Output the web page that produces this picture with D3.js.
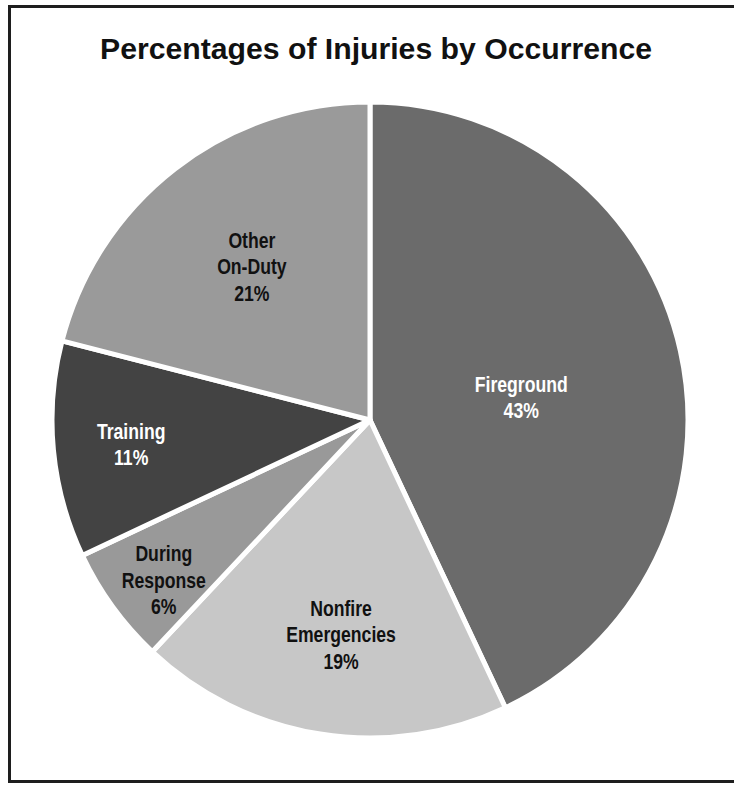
<!DOCTYPE html>
<html>
<head>
<meta charset="utf-8">
<script src="https://cdn.jsdelivr.net/npm/d3@7"></script>
<style>
  body { margin: 0; background: #fff; }
  svg { display: block; }
</style>
</head>
<body>
<div id="chart"></div>
<script>
const width = 734
const height = 785

// data, clockwise from 12 o'clock
const categories = ["Fireground", "Nonfire Emergencies", "During Response", "Training", "Other On-Duty"]
const values = [43, 19, 6, 11, 21]
const labelLines = [["Fireground"], ["Nonfire", "Emergencies"], ["During", "Response"], ["Training"], ["Other", "On-Duty"]]

const fills = ["#6b6b6b", "#c7c7c7", "#999999", "#434343", "#9a9a9a"]
const textFills = ["#fff", "#111", "#111", "#fff", "#111"]
// label placement: distance from centre and small angle nudge (degrees)
const labelRadius = [153, 216, 261, 240, 194]
const labelNudge = [3.9, -1.3, -1.8, -0.3, 0.3]

const cx = 370, cy = 420, radius = 318

const svg = d3.select("#chart")
  .append("svg")
  .attr("width", width)
  .attr("height", height)

// frame
svg.append("rect")
  .attr("x", 9.5)
  .attr("y", 6.5)
  .attr("width", 740)
  .attr("height", 775)
  .attr("fill", "none")
  .attr("stroke", "#1e1e1e")
  .attr("stroke-width", 3)

// title
svg.append("text")
  .attr("x", 376)
  .attr("y", 59)
  .attr("text-anchor", "middle")
  .attr("font-family", "'Liberation Sans', Arial, sans-serif")
  .attr("font-weight", "bold")
  .attr("font-size", 29)
  .attr("textLength", 552)
  .attr("lengthAdjust", "spacingAndGlyphs")
  .attr("fill", "#111")
  .text("Percentages of Injuries by Occurrence")

const table = categories.map((c, i) => ({name: c, value: values[i], i: i}))

const pie = d3.pie().sort(null).value(d => d.value)
const arcs = pie(table)
const arc = d3.arc().innerRadius(0).outerRadius(radius)

const g = svg.append("g").attr("transform", `translate(${cx},${cy})`)

g.selectAll("path")
  .data(arcs)
  .enter()
  .append("path")
  .attr("d", arc)
  .attr("fill", d => fills[d.data.i])
  .attr("stroke", "#fff")
  .attr("stroke-width", 5)
  .attr("stroke-linejoin", "round")

// labels (condensed look: squeeze horizontally)
const lineH = 26.5
arcs.forEach(function(d) {
  const i = d.data.i
  const a = (d.startAngle + d.endAngle) / 2 + labelNudge[i] * Math.PI / 180
  const lx = labelRadius[i] * Math.sin(a)
  const ly = -labelRadius[i] * Math.cos(a)
  const lines = labelLines[i].concat([d.data.value + "%"])
  const y0 = ly - (lines.length - 1) * lineH / 2 + 8
  lines.forEach(function(s, k) {
    g.append("text")
      .attr("transform", `translate(${lx},${y0 + k * lineH}) scale(0.82,1)`)
      .attr("text-anchor", "middle")
      .attr("font-family", "'Liberation Sans', Arial, sans-serif")
      .attr("font-weight", "bold")
      .attr("font-size", 21.5)
      .attr("fill", textFills[i])
      .text(s)
  })
})
</script>
</body>
</html>
